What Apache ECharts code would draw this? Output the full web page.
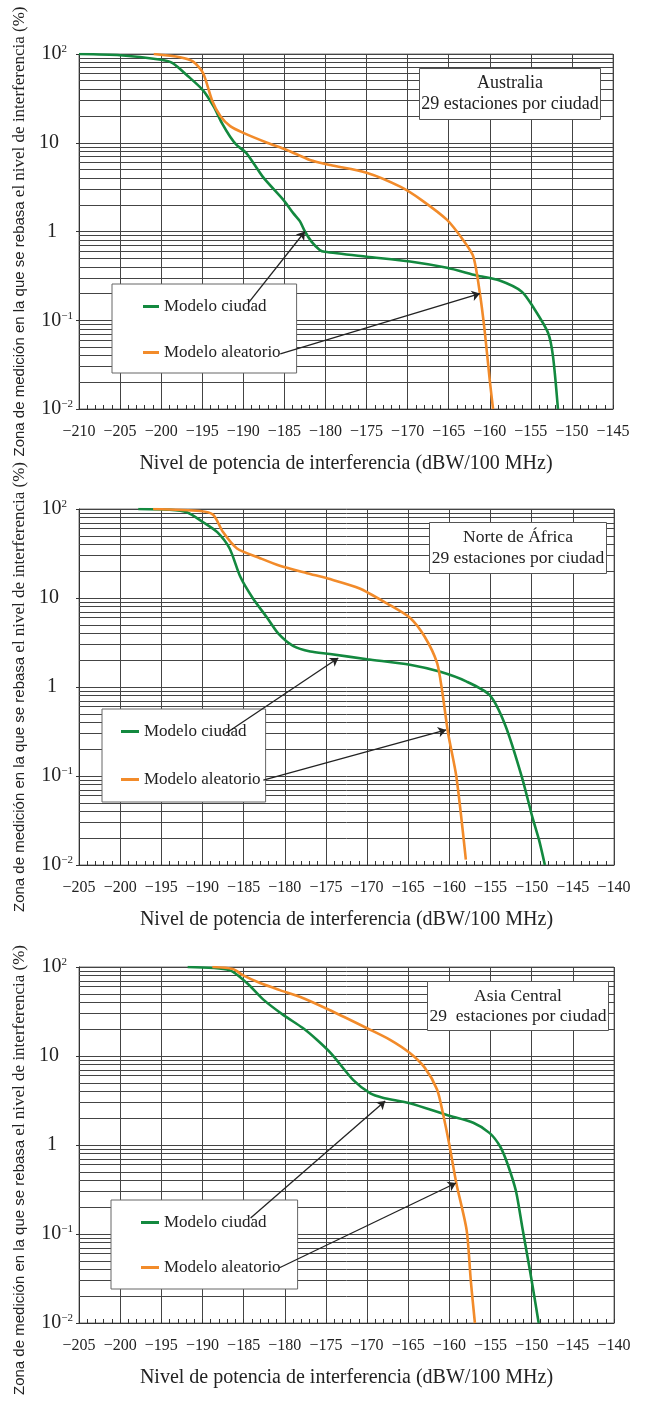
<!DOCTYPE html>
<html>
<head>
<meta charset="utf-8">
<script src="https://cdn.jsdelivr.net/npm/echarts@6/dist/echarts.min.js"></script>
<style>
html,body{margin:0;padding:0;background:#fff;}
#chart{width:646px;height:1402px;}
</style>
</head>
<body>
<div id="chart"></div>
<script>
// ---------- DATA ----------
const seriesNames = ['Modelo ciudad', 'Modelo aleatorio'];
const panelTitles = ['Australia\n29 estaciones por ciudad', 'Norte de África\n29 estaciones por ciudad', 'Asia Central\n29  estaciones por ciudad'];
const xTitle = 'Nivel de potencia de interferencia (dBW/100 MHz)';
const yTitleA = 'Zona de medición en la que se rebasa ';
const yTitleB = 'el nivel de interferencia (%)';
const xRanges = [[-210, -145], [-205, -140], [-205, -140]];

// Australia
const ausCiudadX = [-210, -205, -200, -198.6, -196.8, -194.9, -193.6, -192.6, -191.6, -190.8, -189.6, -187.6, -185.1, -183.9, -183.1, -182.5, -181.7, -180.7, -180.1, -175, -169.7, -165.2, -161.6, -158.8, -156.1, -154.7, -152.9, -152.3, -151.7];
const ausCiudadY = [100, 97, 86, 79, 57, 39, 25.5, 16.6, 11.7, 9.4, 7.6, 4.1, 2.26, 1.6, 1.3, 1.0, 0.77, 0.62, 0.59, 0.52, 0.46, 0.39, 0.32, 0.28, 0.21, 0.14, 0.072, 0.039, 0.01];
const ausAleatX = [-200.9, -197.7, -196.1, -194.9, -193.8, -192.8, -191.6, -190, -187.1, -184.7, -181.9, -179.4, -175, -170.9, -168.3, -165.2, -163.2, -162, -161.2, -160.6, -160, -159.6];
const ausAleatY = [100, 92, 82, 61, 30, 20, 15.4, 12.9, 10, 8.3, 6.4, 5.6, 4.6, 3.2, 2.26, 1.35, 0.79, 0.52, 0.2, 0.073, 0.021, 0.01];

// Norte de África
const nafCiudadX = [-197.8, -194, -191.9, -189.9, -188.2, -186.7, -185.4, -183.9, -182.2, -180.8, -179, -176.9, -174.5, -170, -164.8, -161.1, -157.9, -155.1, -153.2, -151.2, -149.9, -149.1, -148.4];
const nafCiudadY = [100, 98, 92, 71, 55, 36, 17.3, 10, 6.1, 4.0, 2.9, 2.5, 2.35, 2.05, 1.78, 1.48, 1.15, 0.81, 0.37, 0.098, 0.034, 0.019, 0.01];
const nafAleatX = [-196, -190.3, -188.7, -187.5, -185.8, -183, -180.6, -177.3, -174.5, -170.9, -167.6, -164.8, -163, -161.5, -160.9, -160.15, -159.15, -158];
const nafAleatY = [100, 95, 86, 55, 36, 28, 23, 19, 16.3, 12.8, 8.7, 6, 3.67, 1.87, 0.93, 0.3, 0.098, 0.0115];

// Asia Central
const asiCiudadX = [-191.8, -186.7, -184.6, -182.6, -180.2, -177.8, -176.1, -174.3, -171.7, -169.6, -168.1, -164.8, -160.3, -157.1, -155.1, -153.8, -152.9, -151.9, -151.15, -150.15, -149.15];
const asiCiudadY = [100, 92, 66, 43, 29, 20.6, 15.2, 10.5, 5.4, 3.8, 3.4, 2.95, 2.17, 1.78, 1.36, 0.95, 0.6, 0.3, 0.12, 0.036, 0.01];
const asiAleatX = [-188.8, -186.3, -185.1, -183, -180.6, -178.1, -174.3, -170, -167.2, -164.8, -163, -161.5, -160.8, -160, -159.15, -157.9, -157.4, -156.9];
const asiAleatY = [100, 95, 81, 66, 55, 46, 32, 20.5, 15.2, 10.8, 7.4, 4.2, 2.3, 1.0, 0.37, 0.11, 0.03, 0.01];

// Annotation arrows: [fromX, fromY, toX, toY] in data units
const ausArrows = [[-189.4, 0.156, -182.5, 1.0], [-185.5, 0.0417, -161.2, 0.2]];
const nafArrows = [[-187.1, 0.304, -173.5, 2.12], [-182.6, 0.090, -160.4, 0.329]];
const asiArrows = [[-184.15, 0.151, -167.8, 3.12], [-180.7, 0.0415, -159.2, 0.374]];

// Minor horizontal grid values (log decades)
const minorGridValues = [];
[0.01, 0.1, 1, 10].forEach(d => { for (let k = 2; k <= 9; k++) minorGridValues.push(+(d * k).toPrecision(3)); });

// ---------- LAYOUT / STYLE ----------
const GREEN = '#13893f';
const ORANGE = '#f28b2a';
const SERIF = 'Liberation Serif';
const SANS = 'Liberation Sans';
const grids = [
  {left: 79, top: 54, width: 534, height: 355},
  {left: 79, top: 509, width: 535, height: 356},
  {left: 79, top: 967, width: 535, height: 356}
];
const titlePos = [{left: 508, top: 68}, {left: 516, top: 522}, {left: 516, top: 981}];
const titleLH = [21, 21, 20];
const titleFS = [18, 17.5, 17.5];
const legendPos = [
  {left: 112, top: 284, padding: [14, 16, 12, 31], itemGap: 29, itemWidth: 16},
  {left: 102, top: 709, padding: [14, 5, 14, 19], itemGap: 31, itemWidth: 18},
  {left: 111, top: 1200, padding: [14, 17, 13, 30], itemGap: 28, itemWidth: 18}
];
const yNamePadding = [[0, 0, 0, 0], [0, 0, 0, 0], [0, 50, 0, 0]];

function pairs(xs, ys) { return xs.map((x, i) => [x, ys[i]]); }
const panels = [
  {c: pairs(ausCiudadX, ausCiudadY), a: pairs(ausAleatX, ausAleatY), arrows: ausArrows},
  {c: pairs(nafCiudadX, nafCiudadY), a: pairs(nafAleatX, nafAleatY), arrows: nafArrows},
  {c: pairs(asiCiudadX, asiCiudadY), a: pairs(asiAleatX, asiAleatY), arrows: asiArrows}
];

function yLabel(v) {
  const e = Math.round(Math.log10(v));
  if (e === 2) return '{b|10}{s|2}{w6| }';
  if (e === 1) return '{b|10}{w14| }';
  if (e === 0) return '{b|1}{w16| }';
  return '{b|10}{s|\u2212' + (-e) + '}';
}

const xAxis = [], yAxis = [], series = [], title = [], legend = [];
panels.forEach((p, i) => {
  title.push({
    text: panelTitles[i], left: titlePos[i].left, top: titlePos[i].top, textAlign: 'center',
    padding: [5, 2, 5, 2], borderColor: '#555', borderWidth: 1, backgroundColor: '#fff',
    textStyle: {fontFamily: SERIF, fontSize: titleFS[i], fontWeight: 'normal', color: '#222', lineHeight: titleLH[i]}
  });
  legend.push({
    data: seriesNames, orient: 'vertical', align: 'left', left: legendPos[i].left, top: legendPos[i].top,
    padding: legendPos[i].padding, itemGap: legendPos[i].itemGap, itemWidth: legendPos[i].itemWidth, itemHeight: 3,
    icon: 'rect', borderColor: '#666', borderWidth: 1, backgroundColor: '#fff',
    textStyle: {fontFamily: SERIF, fontSize: 17, color: '#222'}
  });
  xAxis.push({
    type: 'value', gridIndex: i, min: xRanges[i][0], max: xRanges[i][1], interval: 5,
    name: xTitle, nameLocation: 'middle', nameGap: 45,
    nameTextStyle: {fontFamily: SERIF, fontSize: 20, color: '#222'},
    axisLine: {show: true, lineStyle: {color: '#333', width: 1}},
    axisTick: {show: true, inside: true, length: 4, lineStyle: {color: '#333'}},
    minorTick: {show: true, splitNumber: 5, length: 4, lineStyle: {color: '#333'}},
    splitLine: {show: true, lineStyle: {color: '#444', width: 1}},
    axisLabel: {fontFamily: SERIF, fontSize: 16, color: '#222', margin: 15,
      formatter: v => String(v).replace('-', '\u2212')}
  });
  yAxis.push({
    type: 'log', logBase: 10, gridIndex: i, min: 0.01, max: 100,
    name: '{a|' + yTitleA + '}{b|' + yTitleB + '}', nameLocation: 'middle', nameRotate: 90, nameGap: 48,
    nameTextStyle: {color: '#222', padding: yNamePadding[i], rich: {
      a: {fontFamily: SANS, fontSize: 15, color: '#222'},
      b: {fontFamily: SERIF, fontSize: 17, color: '#222'}
    }},
    axisLine: {show: true, lineStyle: {color: '#333', width: 1}},
    axisTick: {show: true, length: 3, lineStyle: {color: '#333'}},
    splitLine: {show: true, lineStyle: {color: '#444', width: 1}},
    axisLabel: {margin: 6, formatter: yLabel, rich: {
      b: {fontFamily: SERIF, fontSize: 20, color: '#222'},
      s: {fontFamily: SERIF, fontSize: 11, color: '#222', verticalAlign: 'top'},
      w6: {width: 6, fontSize: 4}, w14: {width: 14, fontSize: 4}, w16: {width: 16, fontSize: 4}
    }}
  });
  // minor horizontal grid lines
  series.push({
    type: 'line', name: 'grid' + i, xAxisIndex: i, yAxisIndex: i, data: [], silent: true, z: 1,
    markLine: {silent: true, z: 1, symbol: ['none', 'none'], label: {show: false}, animation: false,
      lineStyle: {color: '#444', width: 1, type: 'solid'},
      emphasis: {disabled: true},
      data: minorGridValues.map(v => ({yAxis: v}))}
  });
  series.push({
    type: 'line', name: seriesNames[0], xAxisIndex: i, yAxisIndex: i, data: p.c,
    showSymbol: false, smooth: 0.25, color: GREEN, lineStyle: {color: GREEN, width: 2.6}, z: 3
  });
  series.push({
    type: 'line', name: seriesNames[1], xAxisIndex: i, yAxisIndex: i, data: p.a,
    showSymbol: false, smooth: 0.25, color: ORANGE, lineStyle: {color: ORANGE, width: 2.6}, z: 3
  });
  // annotation arrows
  series.push({
    type: 'line', name: 'arrows' + i, xAxisIndex: i, yAxisIndex: i, data: [], silent: true, z: 5,
    markLine: {silent: true, z: 5, symbol: ['none', 'arrow'], symbolSize: 8, label: {show: false}, animation: false,
      lineStyle: {color: '#222', width: 1.3, type: 'solid'},
      emphasis: {disabled: true},
      data: p.arrows.map(a => [{coord: [a[0], a[1]]}, {coord: [a[2], a[3]]}])}
  });
});

const chart = echarts.init(document.getElementById('chart'), null, {renderer: 'canvas'});
chart.setOption({
  backgroundColor: '#fff',
  animation: false,
  title, legend,
  grid: grids.map(g => Object.assign({show: true, borderColor: '#777', borderWidth: 1, containLabel: false}, g)),
  xAxis, yAxis, series
});
</script>
</body>
</html>
